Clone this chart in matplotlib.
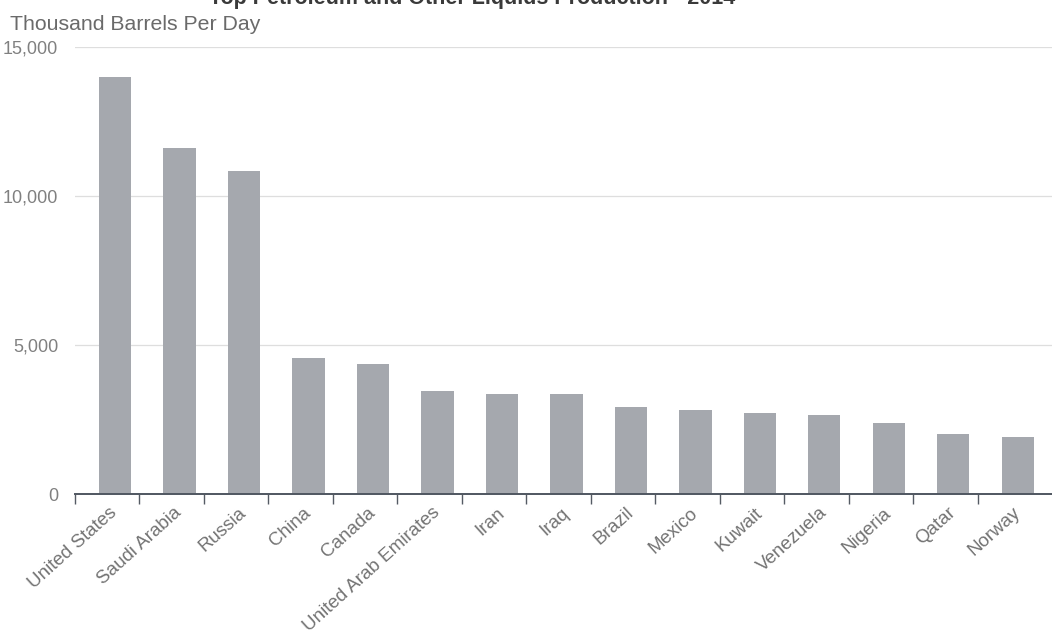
import numpy as np
import matplotlib
matplotlib.use('Agg')
import matplotlib.pyplot as plt

# Production 2014, thousand barrels per day
countries = ['United States', 'Saudi Arabia', 'Russia', 'China', 'Canada',
             'United Arab Emirates', 'Iran', 'Iraq', 'Brazil', 'Mexico',
             'Kuwait', 'Venezuela', 'Nigeria', 'Qatar', 'Norway']
production = [14000, 11620, 10850, 4560, 4360, 3460, 3360, 3340, 2930,
              2810, 2730, 2660, 2380, 2030, 1900]
y_ticks = [0, 5000, 10000, 15000]

plt.rcParams['font.family'] = ['Liberation Sans', 'DejaVu Sans']

fig = plt.figure(figsize=(10.52, 6.43), dpi=100)
ax = fig.add_axes([0.0713, 0.2317, 0.9287, 0.6952])

x = np.arange(len(countries))
ax.bar(x, production, width=0.5, color='#a5a8ae', zorder=2)

ax.set_xlim(-0.62, 14.53)
ax.set_ylim(0, 15000)

# gridlines and y labels
ax.set_yticks(y_ticks)
ax.set_yticklabels([f'{v:,}' for v in y_ticks], fontsize=13, color='#808080')
ax.tick_params(axis='y', length=0, pad=12)
ax.grid(axis='y', color='#dedede', linewidth=0.9, zorder=0)

# category labels, with boundary ticks on the axis
ax.set_xticks(x)
ax.set_xticklabels(countries, rotation=42, ha='right', va='center',
                   rotation_mode='anchor', fontsize=13.5, color='#737373')
ax.tick_params(axis='x', which='major', length=0, pad=12)
ax.set_xticks(np.arange(len(countries)) - 0.62, minor=True)
ax.tick_params(axis='x', which='minor', length=7, width=1.0, color='#555b64',
               direction='out')

for side in ['left', 'right', 'top']:
    ax.spines[side].set_visible(False)
ax.spines['bottom'].set_color('#4f5660')
ax.spines['bottom'].set_linewidth(1.4)
ax.spines['bottom'].set_zorder(3)

fig.text(0.0095, 1 - 30 / 643, 'Thousand Barrels Per Day', fontsize=15.3,
         color='#6a6a6a', ha='left', va='baseline')
fig.text(735 / 1052, 1 - 4 / 643,
         'Top Petroleum and Other Liquids Production - 2014',
         fontsize=15.5, fontweight='bold', color='#3a3a3a',
         ha='right', va='baseline')

fig.savefig('out.png', dpi=100)
